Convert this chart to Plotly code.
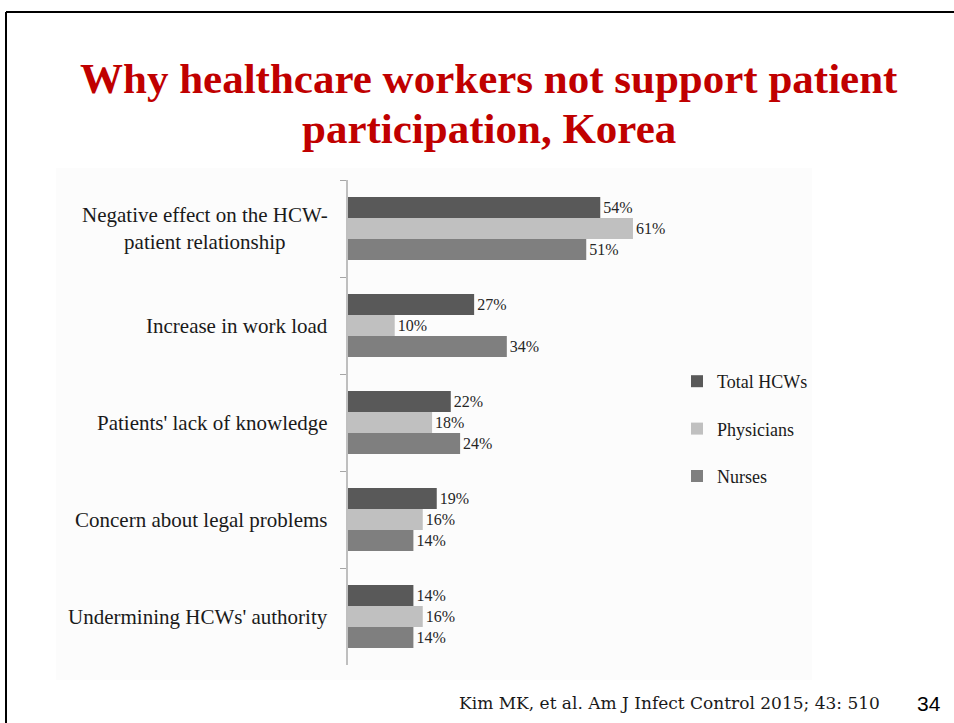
import plotly.graph_objects as go

W, H = 954, 723

categories = [
    "Negative effect on the HCW-<br>patient relationship",
    "Increase in work load",
    "Patients' lack of knowledge",
    "Concern about legal problems",
    "Undermining HCWs' authority",
]
series_names = ["Total HCWs", "Physicians", "Nurses"]
total_hcws = [54, 27, 22, 19, 14]
physicians = [61, 10, 18, 16, 16]
nurses = [51, 34, 24, 14, 14]
series_values = [total_hcws, physicians, nurses]
series_colors = ["#595959", "#c0c0c0", "#7f7f7f"]

title_lines = ["Why healthcare workers not support patient", "participation, Korea"]
citation = "Kim MK, et al. Am J Infect Control 2015; 43: 510"
slide_no = "34"


def px_x(p):
    return p / W


def px_y(p):
    return 1 - p / H


fig = go.Figure()
for name, vals, col in zip(series_names, series_values, series_colors):
    fig.add_trace(go.Bar(
        y=categories, x=vals, name=name, orientation="h",
        marker=dict(color=col, line=dict(width=0)),
        text=[f"{v}%" for v in vals], textposition="outside",
        textfont=dict(family="Liberation Serif", size=16, color="#262626"),
        constraintext="none", cliponaxis=False,
        legendgroup=name, hoverinfo="skip",
    ))

annotations = []
for c in categories:
    annotations.append(dict(
        x=0, y=c, xref="x", yref="y", text=c, showarrow=False,
        xanchor="right", yanchor="middle", align="center", xshift=-18,
        font=dict(family="Liberation Serif", size=21, color="#1a1a1a"),
    ))

for line, ypx in zip(title_lines, [78, 128]):
    annotations.append(dict(
        x=px_x(489), y=px_y(ypx), xref="paper", yref="paper", text=f"<b>{line}</b>",
        showarrow=False, xanchor="center", yanchor="middle", align="center",
        font=dict(family="Liberation Serif", size=43, color="#c00000"),
    ))
annotations.append(dict(
    x=px_x(882), y=px_y(703), xref="paper", yref="paper", text=citation,
    showarrow=False, xanchor="right", yanchor="middle",
    font=dict(family="DejaVu Serif", size=17, color="#1a1a1a"),
))
annotations.append(dict(
    x=px_x(943), y=px_y(703), xref="paper", yref="paper", text=slide_no,
    showarrow=False, xanchor="right", yanchor="middle",
    font=dict(family="Liberation Sans", size=21, color="#000000"),
))

shapes = [
    dict(type="rect", xref="paper", yref="paper", x0=px_x(56), x1=px_x(812),
         y0=px_y(680), y1=px_y(168), fillcolor="#fcfcfc", line=dict(width=0), layer="below"),
    dict(type="line", xref="paper", yref="paper", x0=px_x(6), x1=px_x(954),
         y0=px_y(12), y1=px_y(12), line=dict(color="#000000", width=2)),
    dict(type="line", xref="paper", yref="paper", x0=px_x(6), x1=px_x(6),
         y0=px_y(12), y1=px_y(723), line=dict(color="#000000", width=2)),
]

fig.update_layout(
    width=W, height=H,
    margin=dict(l=0, r=0, t=0, b=0),
    paper_bgcolor="#ffffff", plot_bgcolor="rgba(0,0,0,0)",
    barmode="group", bargap=0.35, bargroupgap=0,
    showlegend=True,
    legend=dict(
        x=px_x(677), y=px_y(429), xanchor="left", yanchor="middle",
        traceorder="grouped", tracegroupgap=21,
        font=dict(family="Liberation Serif", size=18, color="#1a1a1a"),
        bgcolor="rgba(0,0,0,0)",
    ),
    xaxis=dict(domain=[px_x(348), px_x(675)], range=[0, 70], visible=False, fixedrange=True),
    yaxis=dict(
        domain=[px_y(665), px_y(180)], autorange="reversed", type="category",
        showticklabels=False, showline=True, linecolor="#bfbfbf", linewidth=1.5,
        ticks="outside", tickson="boundaries", ticklen=6, tickcolor="#a6a6a6",
        showgrid=False, zeroline=False, fixedrange=True,
    ),
    annotations=annotations, shapes=shapes,
)

fig.write_html("out.html")
